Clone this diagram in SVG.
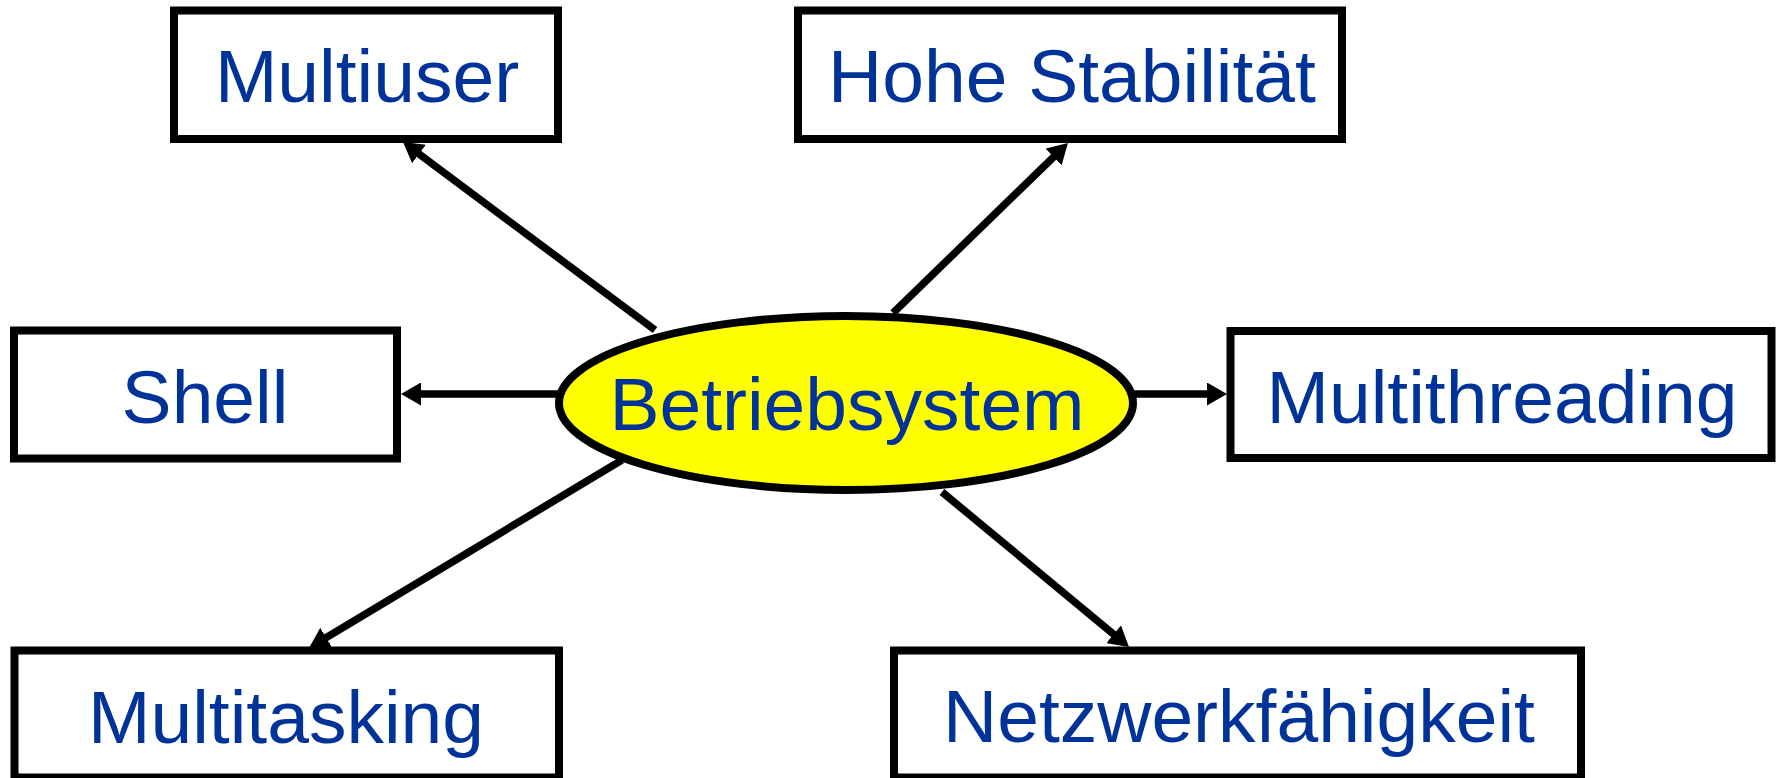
<svg xmlns="http://www.w3.org/2000/svg" width="1781" height="778" viewBox="0 0 1781 778">
<style>
.box{fill:#ffffff;stroke:#000000;stroke-width:8}
.ell{fill:#ffff00;stroke:#000000;stroke-width:8}
.lbl{font-family:"Liberation Sans",Arial,sans-serif;font-size:75px;fill:#003399;text-anchor:middle}
.con{stroke:#000000;stroke-width:7.5;fill:none;marker-end:url(#arr)}
</style>
<defs>
<marker id="arr" viewBox="0 0 20 23" refX="10" refY="11.5" markerWidth="20" markerHeight="23" markerUnits="userSpaceOnUse" orient="auto">
<path d="M0,0 L20,11.5 L0,23 Z" fill="#000000"/>
</marker>
</defs>
<rect width="1781" height="778" fill="#ffffff"/>
<g id="connectors">
<line class="con" x1="655" y1="330" x2="411" y2="148"/>
<line class="con" x1="893" y1="313" x2="1060.8" y2="150"/>
<line class="con" x1="560" y1="394" x2="411" y2="394"/>
<line class="con" x1="1133" y1="394" x2="1217" y2="394"/>
<line class="con" x1="622" y1="460" x2="317.6" y2="642.8"/>
<line class="con" x1="942" y1="492" x2="1121.3" y2="640.6"/>
</g>
<g id="node-betriebsystem">
<ellipse class="ell" cx="846" cy="403" rx="287" ry="87"/>
<text class="lbl" x="847" y="430">Betriebsystem</text>
</g>
<g id="node-multiuser">
<rect class="box" x="174" y="10.5" width="384" height="128.5"/>
<text class="lbl" x="367" y="102">Multiuser</text>
</g>
<g id="node-hohe-stabilitaet">
<rect class="box" x="798" y="10.5" width="544" height="128.5"/>
<text class="lbl" x="1072" y="102">Hohe Stabilität</text>
</g>
<g id="node-shell">
<rect class="box" x="14" y="330.5" width="383" height="128"/>
<text class="lbl" x="205" y="423">Shell</text>
</g>
<g id="node-multithreading">
<rect class="box" x="1230.5" y="331" width="541" height="127"/>
<text class="lbl" x="1502" y="423">Multithreading</text>
</g>
<g id="node-multitasking">
<rect class="box" x="14.5" y="650.5" width="544.5" height="127"/>
<text class="lbl" x="286" y="743">Multitasking</text>
</g>
<g id="node-netzwerkfaehigkeit">
<rect class="box" x="894" y="650.5" width="687" height="127"/>
<text class="lbl" x="1239" y="742">Netzwerkfähigkeit</text>
</g>
</svg>
